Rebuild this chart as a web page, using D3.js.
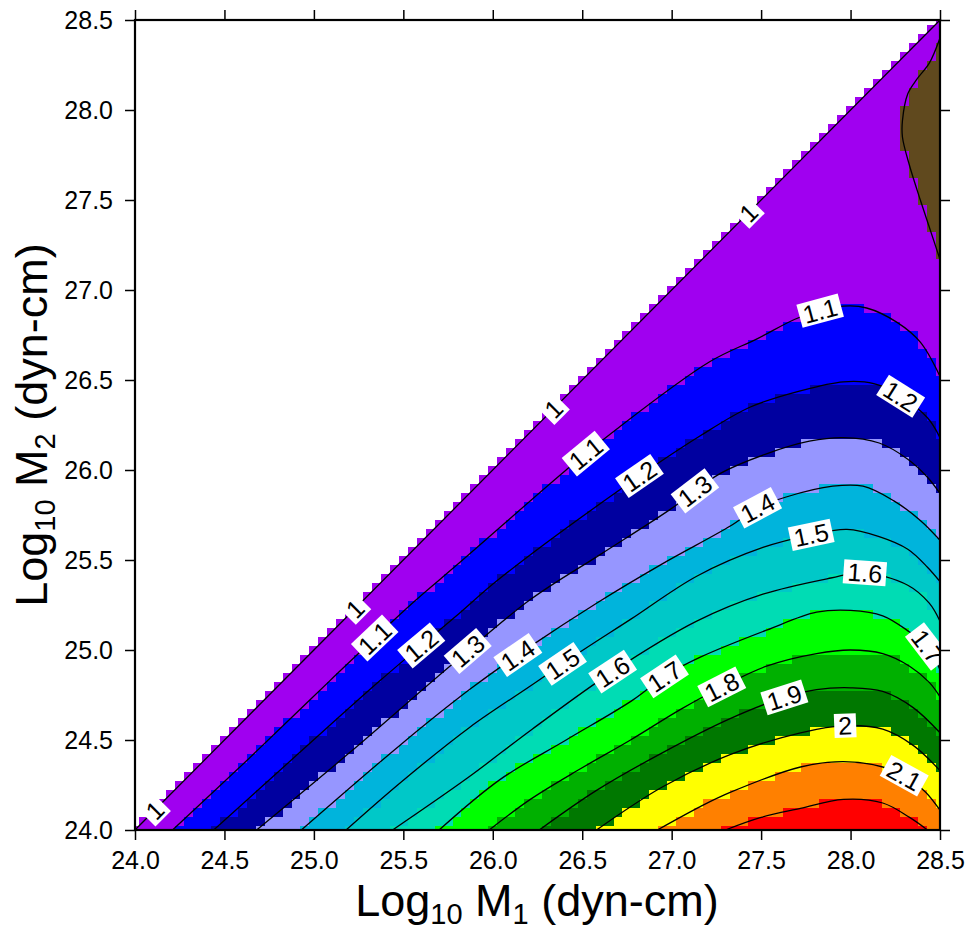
<!DOCTYPE html>
<html>
<head>
<meta charset="utf-8">
<script src="https://cdn.jsdelivr.net/npm/d3@7"></script>
<style>
  body { margin: 0; background: #fff; }
  svg text { font-family: "Liberation Sans", Arial, sans-serif; fill: #000; }
</style>
</head>
<body>
<svg id="chart" width="968" height="931"></svg>
<script>
// contour levels (above the M2 = M1 line, which is level 1)
const levels = [1.1, 1.2, 1.3, 1.4, 1.5, 1.6, 1.7, 1.8, 1.9, 2.0, 2.1, 2.2];
// fill for each band: [1,1.1), [1.1,1.2) ... [2.2, ...)
const bandColors = ["#a000f0", "#0000ff", "#0000a0", "#9696ff", "#00b4dc", "#00c8c8",
                    "#00dcb4", "#00ff00", "#00b000", "#007800", "#ffff00", "#ff8000", "#ff0000"];
const lowColor = "#60491e";

// contour lines, [log M1, log M2]
const c10 = [[24.0, 24.0], [28.5, 28.5]];
const c11 = [[24.21, 24.0], [24.64, 24.40], [25.09, 24.83], [25.55, 25.26], [25.82, 25.49], [26.41, 26.0],
             [26.67, 26.21], [27.21, 26.60], [27.48, 26.73], [27.72, 26.85], [27.96, 26.91], [28.09, 26.90],
             [28.26, 26.82], [28.39, 26.71], [28.5, 26.52]];
const c12 = [[24.44, 24.0], [24.92, 24.43], [25.37, 24.83], [25.82, 25.21], [26.03, 25.39], [26.71, 25.89],
             [27.16, 26.19], [27.44, 26.35], [27.72, 26.44], [27.96, 26.49], [28.13, 26.48], [28.28, 26.41],
             [28.43, 26.29], [28.5, 26.18]];
const c13 = [[24.68, 24.0], [25.20, 24.43], [25.76, 24.91], [26.21, 25.28], [26.60, 25.53], [26.99, 25.78],
             [27.27, 25.98], [27.53, 26.09], [27.77, 26.16], [27.96, 26.18], [28.16, 26.15], [28.32, 26.06],
             [28.43, 25.96], [28.5, 25.87]];
const c14 = [[24.93, 24.0], [25.48, 24.47], [25.87, 24.78], [26.21, 25.02], [26.58, 25.26], [26.95, 25.48],
             [27.33, 25.69], [27.48, 25.79], [27.64, 25.85], [27.90, 25.91], [28.07, 25.91], [28.24, 25.83],
             [28.39, 25.72], [28.5, 25.61]];
const c15 = [[25.18, 24.0], [25.48, 24.26], [25.87, 24.57], [26.21, 24.80], [26.49, 24.99], [26.77, 25.17],
             [27.14, 25.41], [27.51, 25.57], [27.78, 25.64], [27.98, 25.67], [28.16, 25.63], [28.32, 25.56],
             [28.43, 25.46], [28.5, 25.38]];
const c16 = [[25.44, 24.0], [25.86, 24.29], [26.22, 24.56], [26.67, 24.88], [27.14, 25.16], [27.51, 25.31],
             [27.89, 25.40], [28.07, 25.43], [28.32, 25.36], [28.44, 25.26], [28.5, 25.16]];
const c17 = [[25.70, 24.0], [26.04, 24.28], [26.41, 24.50], [26.78, 24.72], [26.97, 24.86], [27.16, 24.96],
             [27.53, 25.11], [27.81, 25.21], [28.0, 25.22], [28.18, 25.19], [28.33, 25.10], [28.43, 25.02],
             [28.5, 24.89]];
const c18 = [[25.98, 24.0], [26.21, 24.17], [26.49, 24.34], [26.77, 24.50], [27.05, 24.67], [27.29, 24.80],
             [27.53, 24.91], [27.81, 24.98], [28.0, 25.0], [28.18, 24.98], [28.33, 24.91], [28.44, 24.82],
             [28.5, 24.74]];
const c19 = [[26.26, 24.0], [26.58, 24.22], [26.95, 24.43], [27.33, 24.62], [27.64, 24.74], [27.81, 24.78],
             [28.0, 24.79], [28.18, 24.77], [28.35, 24.68], [28.5, 24.54]];
const c20 = [[26.58, 24.0], [26.95, 24.24], [27.33, 24.42], [27.72, 24.54], [27.97, 24.58], [28.18, 24.56],
             [28.35, 24.47], [28.5, 24.33]];
const c21 = [[26.92, 24.0], [27.16, 24.13], [27.33, 24.21], [27.72, 24.35], [27.96, 24.38], [28.18, 24.35],
             [28.32, 24.29], [28.42, 24.21], [28.5, 24.11]];
const c22 = [[27.30, 24.0], [27.50, 24.07], [27.72, 24.12], [27.96, 24.17], [28.18, 24.15], [28.33, 24.07],
             [28.43, 24.0]];
// the small closed-off region at the top right
const c09 = [[28.5, 28.40], [28.44, 28.26], [28.37, 28.17], [28.32, 28.09], [28.29, 27.94], [28.29, 27.85],
             [28.33, 27.69], [28.39, 27.50], [28.44, 27.35], [28.5, 27.17]];

// contour labels: [level, log M1 of the label]
const labelSpots = [[1, 24.11], [1, 25.23], [1, 26.34], [1, 27.43],
                    [1.1, 25.34], [1.1, 26.52], [1.1, 27.83],
                    [1.2, 25.60], [1.2, 26.82], [1.2, 28.28],
                    [1.3, 25.86], [1.3, 27.13],
                    [1.4, 26.14], [1.4, 27.48],
                    [1.5, 26.39], [1.5, 27.78],
                    [1.6, 26.67], [1.6, 28.08],
                    [1.7, 26.96], [1.7, 28.43],
                    [1.8, 27.28], [1.9, 27.63], [2.0, 27.97], [2.1, 28.30]];

const tickVals = [24.0, 24.5, 25.0, 25.5, 26.0, 26.5, 27.0, 27.5, 28.0, 28.5];
const gridStep = 0.05;

const lines = [c11, c12, c13, c14, c15, c16, c17, c18, c19, c20, c21, c22];
const lineOf = lv => lv === 1 ? c10 : lines[levels.indexOf(lv)];

// scales
const x = d3.scaleLinear().domain([24, 28.5]).range([135, 940]);
const y = d3.scaleLinear().domain([24, 28.5]).range([830, 20]);

const svg = d3.select("#chart");
svg.append("defs").append("clipPath").attr("id", "plot")
  .append("rect").attr("x", 135).attr("y", 20).attr("width", 805).attr("height", 810);

// linear lookup along a (sampled) contour
function at(pts, v, a, b) {
  const s = pts.slice().sort((p, q) => p[a] - q[a]);
  if (v < s[0][a] || v > s[s.length - 1][a]) return null;
  const i = Math.max(1, d3.bisector(p => p[a]).left(s, v));
  const p = s[i - 1], q = s[i];
  return p[b] + (q[b] - p[b]) * (v - p[a]) / ((q[a] - p[a]) || 1);
}

const plot = svg.append("g").attr("clip-path", "url(#plot)");
const cellLayer = plot.append("g");

// contour lines
const line = d3.line().x(d => x(d[0])).y(d => y(d[1])).curve(d3.curveCatmullRom.alpha(0.5));
const paths = plot.append("g").selectAll("path").data([c10, c09, ...lines]).join("path")
  .attr("d", line).attr("fill", "none").attr("stroke", "#000").attr("stroke-width", 1.3);

// sample each drawn curve so the fill follows the same line
const sampled = new Map();
paths.each(function (d) {
  const len = this.getTotalLength(), out = [];
  for (let s = 0; s <= len; s += 1) {
    const pt = this.getPointAtLength(s);
    out.push([x.invert(pt.x), y.invert(pt.y)]);
  }
  const end = this.getPointAtLength(len);
  out.push([x.invert(end.x), y.invert(end.y)]);
  sampled.set(d, out);
});

// grid cells coloured by band
const nodes = d3.range(0, 91).map(i => 24 + i * gridStep);
const cells = [];
nodes.forEach(m1 => nodes.forEach(m2 => {
  if (m2 > m1 + 1e-9) return;
  let band = 0;
  lines.forEach(pts => {
    const g = at(sampled.get(pts), m1, 0, 1);
    if (g !== null && m2 < g) band++;
  });
  let color = bandColors[band];
  const h = at(sampled.get(c09), m2, 1, 0);
  if (h !== null && m1 > h) color = lowColor;
  cells.push({ m1, m2, color });
}));

cellLayer.selectAll("rect").data(cells).join("rect")
  .attr("x", d => x(d.m1 - gridStep / 2))
  .attr("y", d => y(d.m2 + gridStep / 2))
  .attr("width", x(24 + gridStep) - x(24) + 0.3)
  .attr("height", y(24) - y(24 + gridStep) + 0.3)
  .attr("fill", d => d.color)
  .attr("shape-rendering", "crispEdges");

// contour labels
const lab = plot.append("g").selectAll("g").data(labelSpots).join("g")
  .attr("transform", d => {
    const pts = sampled.get(lineOf(d[0]));
    const m2 = at(pts, d[1], 0, 1);
    const a = d[1] - 0.04, b = Math.min(d[1] + 0.04, 28.5);
    const ang = Math.atan2(y(at(pts, b, 0, 1)) - y(at(pts, a, 0, 1)), x(b) - x(a)) * 180 / Math.PI;
    return `translate(${x(d[1])},${y(m2)}) rotate(${ang})`;
  });
lab.append("rect").attr("fill", "#fff");
lab.append("text").attr("text-anchor", "middle").attr("dy", "0.36em")
  .style("font-size", "25px").text(d => d3.format("")(d[0]));
lab.each(function () {
  const bb = d3.select(this).select("text").node().getBBox();
  d3.select(this).select("rect").attr("x", bb.x - 4).attr("y", -12).attr("width", bb.width + 8).attr("height", 24);
});

// axes
const fmt = d3.format(".1f");
const axisStyle = g => {
  g.select(".domain").remove();
  g.selectAll(".tick line").attr("stroke-width", 1.5);
  g.selectAll(".tick text").style("font-size", "25px");
};
svg.append("g").attr("transform", "translate(0,830)")
  .call(d3.axisBottom(x).tickValues(tickVals).tickFormat(fmt).tickSize(10).tickPadding(11)).call(axisStyle);
svg.append("g").attr("transform", "translate(135,0)")
  .call(d3.axisLeft(y).tickValues(tickVals).tickFormat(fmt).tickSize(10).tickPadding(12)).call(axisStyle);
svg.append("g").attr("transform", "translate(0,20)")
  .call(d3.axisTop(x).tickValues(tickVals).tickFormat("").tickSize(10)).call(axisStyle);
svg.append("g").attr("transform", "translate(940,0)")
  .call(d3.axisRight(y).tickValues(tickVals).tickFormat("").tickSize(10)).call(axisStyle);
svg.append("rect").attr("x", 135).attr("y", 20).attr("width", 805).attr("height", 810)
  .attr("fill", "none").attr("stroke", "#000").attr("stroke-width", 2.2);

// axis titles
function title(t, sub) {
  t.style("font-size", "45px");
  t.append("tspan").text("Log");
  t.append("tspan").attr("dy", 8).style("font-size", "29px").text("10");
  t.append("tspan").attr("dy", -8).text(" M");
  t.append("tspan").attr("dy", 8).style("font-size", "29px").text(sub);
  t.append("tspan").attr("dy", -8).text(" (dyn-cm)");
}
svg.append("text").attr("x", 537).attr("y", 916).attr("text-anchor", "middle").call(title, "1");
svg.append("text").attr("transform", "translate(47,425) rotate(-90)").attr("text-anchor", "middle").call(title, "2");
</script>
</body>
</html>
